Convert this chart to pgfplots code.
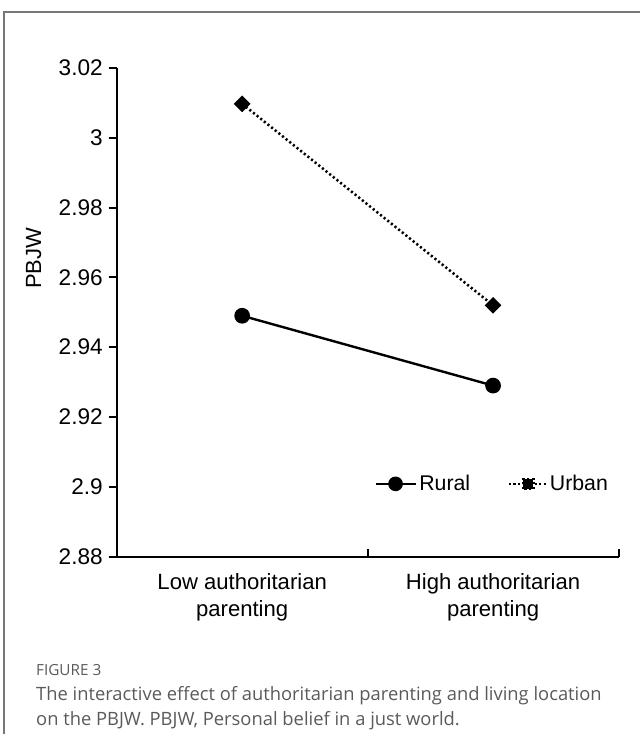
\documentclass[border=0pt]{standalone}
\usepackage{pgfplots}
\pgfplotsset{compat=1.18}
\usepackage{fontspec}
\setmainfont{Liberation Sans}
\newfontfamily\capfont{Open Sans}
\definecolor{capgray}{HTML}{5A5A5A}
\definecolor{framegray}{HTML}{777777}

\pgfplotstableread{
x y
0.5 2.949
1.5 2.929
}\rural
\pgfplotstableread{
x y
0.5 3.0097
1.5 2.952
}\urban

\begin{document}
\begin{tikzpicture}[x=0.75pt,y=-0.75pt]
\path (0,0) rectangle (641,735);
\draw[framegray, line width=1.1pt] (4,736) -- (4,12) -- (642,12);
\begin{axis}[
  at={(87.75pt,-418.5pt)}, anchor=south west,
  scale only axis, width=377.25pt, height=367.5pt,
  xmin=0, xmax=2, ymin=2.88, ymax=3.02,
  axis x line*=bottom, axis y line*=left,
  axis line style={line width=1.5pt, -},
  every tick/.style={black, line width=1.5pt},
  tick align=outside, major tick length=6pt,
  x tick style={yshift=6pt},
  xtick={0,1,2}, xticklabels={},
  extra x ticks={0.5,1.5},
  extra x tick labels={Low authoritarian\\parenting, High authoritarian\\parenting},
  extra x tick style={major tick length=0pt, x tick style={yshift=0pt},
    tick label style={align=center, yshift=-9pt, font=\fontsize{16.6}{20.2}\selectfont}},
  ytick={2.88,2.9,2.92,2.94,2.96,2.98,3,3.02},
  yticklabel style={/pgf/number format/fixed, /pgf/number format/precision=2, xshift=-1pt},
  /pgf/number format/assume math mode=true,
  tick label style={font=\fontsize{17}{20}\selectfont},
  ylabel={PBJW},
  ylabel style={at={(axis description cs:-0.141,0.61)}, anchor=south, font=\fontsize{16.5}{20}\selectfont},
  clip=false,
  legend style={at={(0.505,0.149)}, anchor=west, draw=none, fill=none,
    font=\fontsize{16}{20}\selectfont, legend columns=2,
    /tikz/every even column/.append style={column sep=26pt}},
]
\addplot[black, line width=1.8pt, mark=*, mark size=5pt,
  legend image code/.code={
    \draw[black, line width=1.8pt] (0pt,0pt) -- (30pt,0pt);
    \fill[black] (15pt,0pt) circle (4.6pt);}
  ] table[x=x,y=y]{\rural};
\addlegendentry{Rural}
\addplot[black, line width=1.9pt, dash pattern=on 1.6pt off 1.9pt,
  mark=square*, mark size=3.5pt, mark options={solid, rotate=45},
  legend image code/.code={
    \draw[black, line width=1.9pt, dash pattern=on 1.6pt off 1.9pt] (0pt,0pt) -- (10pt,0pt);
    \draw[black, line width=1.9pt, dash pattern=on 1.6pt off 1.9pt] (19.5pt,0pt) -- (28pt,0pt);
    \fill[black] (11pt,-3.8pt) rectangle (18.6pt,3.8pt);}
  ] table[x=x,y=y]{\urban};
\addlegendentry{Urban}
\end{axis}
\node[anchor=base west, text=capgray, font=\capfont\fontsize{11.5}{13}\selectfont, inner sep=0pt] at (36,677) {FIGURE 3};
\node[anchor=base west, text=capgray, font=\capfont\fontsize{13.8}{16}\selectfont, inner sep=0pt] at (36,702) {The interactive effect of authoritarian parenting and living location};
\node[anchor=base west, text=capgray, font=\capfont\fontsize{13.8}{16}\selectfont, inner sep=0pt] at (36,727) {on the PBJW. PBJW, Personal belief in a just world.};
\end{tikzpicture}
\end{document}
